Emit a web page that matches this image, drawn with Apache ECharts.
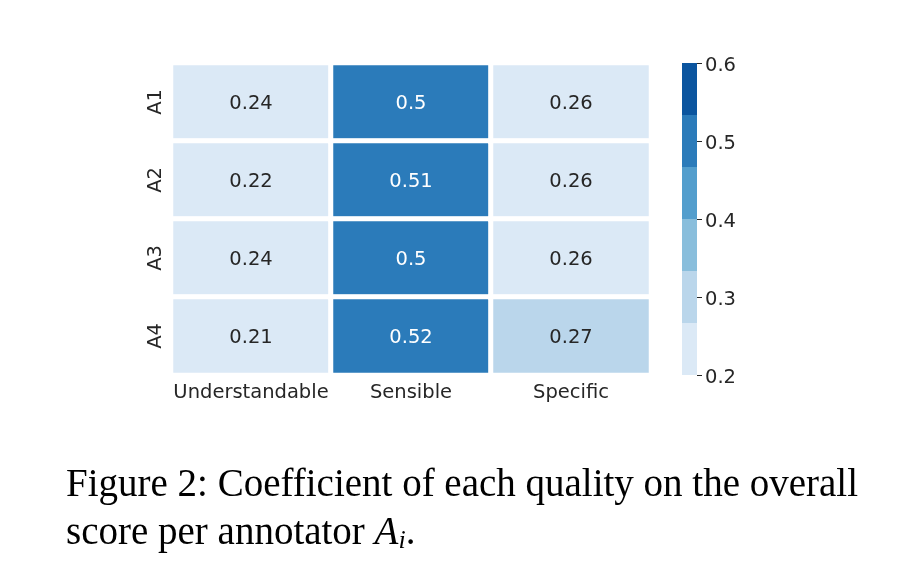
<!DOCTYPE html>
<html><head><meta charset="utf-8">
<script src="https://cdn.jsdelivr.net/npm/echarts@6/dist/echarts.min.js"></script>
<style>html,body{margin:0;padding:0;background:#fff}#c{width:908px;height:573px}</style>
</head><body><div id="c"></div>
<script>
const qualities = ['Understandable', 'Sensible', 'Specific'];
const annotators = ['A1', 'A2', 'A3', 'A4'];
const understandable = [0.24, 0.22, 0.24, 0.21];
const sensible = [0.5, 0.51, 0.5, 0.52];
const specific = [0.26, 0.26, 0.26, 0.27];
const binEdges = [0.2, 0.2667, 0.3333, 0.4, 0.4667, 0.5333, 0.6];
const binColors = ['#dbe9f6', '#bad6eb', '#89bedc', '#539ecd', '#2b7bba', '#0b559f'];
const colorbarTicks = [0.2, 0.3, 0.4, 0.5, 0.6];

const cols = [understandable, sensible, specific];
const heatData = [];
cols.forEach((col, x) => col.forEach((v, y) => heatData.push({
  value: [x, y, v], label: {color: v >= 0.4 ? '#ffffff' : '#262626'}
})));

const pieces = binColors.map((c, i) => ({gte: binEdges[i], lt: binEdges[i + 1], color: c}));

const cbSeries = [{
  type: 'bar', xAxisIndex: 1, yAxisIndex: 1, stack: 'cb', data: [binEdges[0]],
  barWidth: '100%', itemStyle: {color: 'rgba(0,0,0,0)'}, silent: true
}];
binColors.forEach((c, i) => cbSeries.push({
  type: 'bar', xAxisIndex: 1, yAxisIndex: 1, stack: 'cb',
  data: [+(binEdges[i + 1] - binEdges[i]).toFixed(4)],
  barWidth: '100%', itemStyle: {color: c}, silent: true
}));

const font = 'DejaVu Sans';
const fs = 19.5;
const chart = echarts.init(document.getElementById('c'));
chart.setOption({
  animation: false,
  grid: [
    {left: 171, top: 63, width: 480, height: 312},
    {left: 682, top: 63, width: 15, height: 312}
  ],
  xAxis: [
    {type: 'category', data: qualities, gridIndex: 0, axisLine: {show: false}, axisTick: {show: false},
     axisLabel: {fontFamily: font, fontSize: fs, color: '#262626', margin: 8, interval: 0}, splitLine: {show: false}},
    {type: 'category', data: ['cb'], gridIndex: 1, show: false}
  ],
  yAxis: [
    {type: 'category', data: annotators, gridIndex: 0, inverse: true, axisLine: {show: false}, axisTick: {show: false},
     axisLabel: {fontFamily: font, fontSize: fs, color: '#262626', rotate: 90, margin: 5, interval: 0}, splitLine: {show: false}},
    {type: 'value', gridIndex: 1, position: 'right', min: 0.2, max: 0.6, interval: 0.1,
     axisLine: {show: false}, axisTick: {show: true, length: 5, lineStyle: {color: '#262626', width: 1}},
     axisLabel: {margin: 8,
       formatter: v => '{v|' + String(+v.toFixed(1)) + '}',
       rich: {v: {fontFamily: font, fontSize: fs, color: '#262626', padding: [6, 0, 0, 0]}}},
     splitLine: {show: false}}
  ],
  visualMap: {type: 'piecewise', show: false, seriesIndex: 0, dimension: 2, pieces: pieces},
  series: [{
    type: 'heatmap', data: heatData, xAxisIndex: 0, yAxisIndex: 0,
    itemStyle: {borderColor: '#fff', borderWidth: 5},
    label: {show: true, fontFamily: font, fontSize: fs, color: '#262626', offset: [0, 2],
      formatter: p => String(p.value[2])},
    emphasis: {disabled: true}
  }].concat(cbSeries),
  graphic: [
    {type: 'text', left: 66, top: 466, style: {text: 'Figure 2: Coefficient of each quality on the overall',
      font: '39px "Liberation Serif"', fill: '#000'}},
    {type: 'text', left: 66, top: 514, style: {
      text: 'score per annotator {a|A}{s|i}.', font: '39px "Liberation Serif"', fill: '#000',
      rich: {a: {fontFamily: 'Liberation Serif', fontStyle: 'italic', fontSize: 39},
             s: {fontFamily: 'Liberation Serif', fontStyle: 'italic', fontSize: 26, verticalAlign: 'bottom', padding: [16, 0, 0, 0]}}}}
  ]
});
</script></body></html>
